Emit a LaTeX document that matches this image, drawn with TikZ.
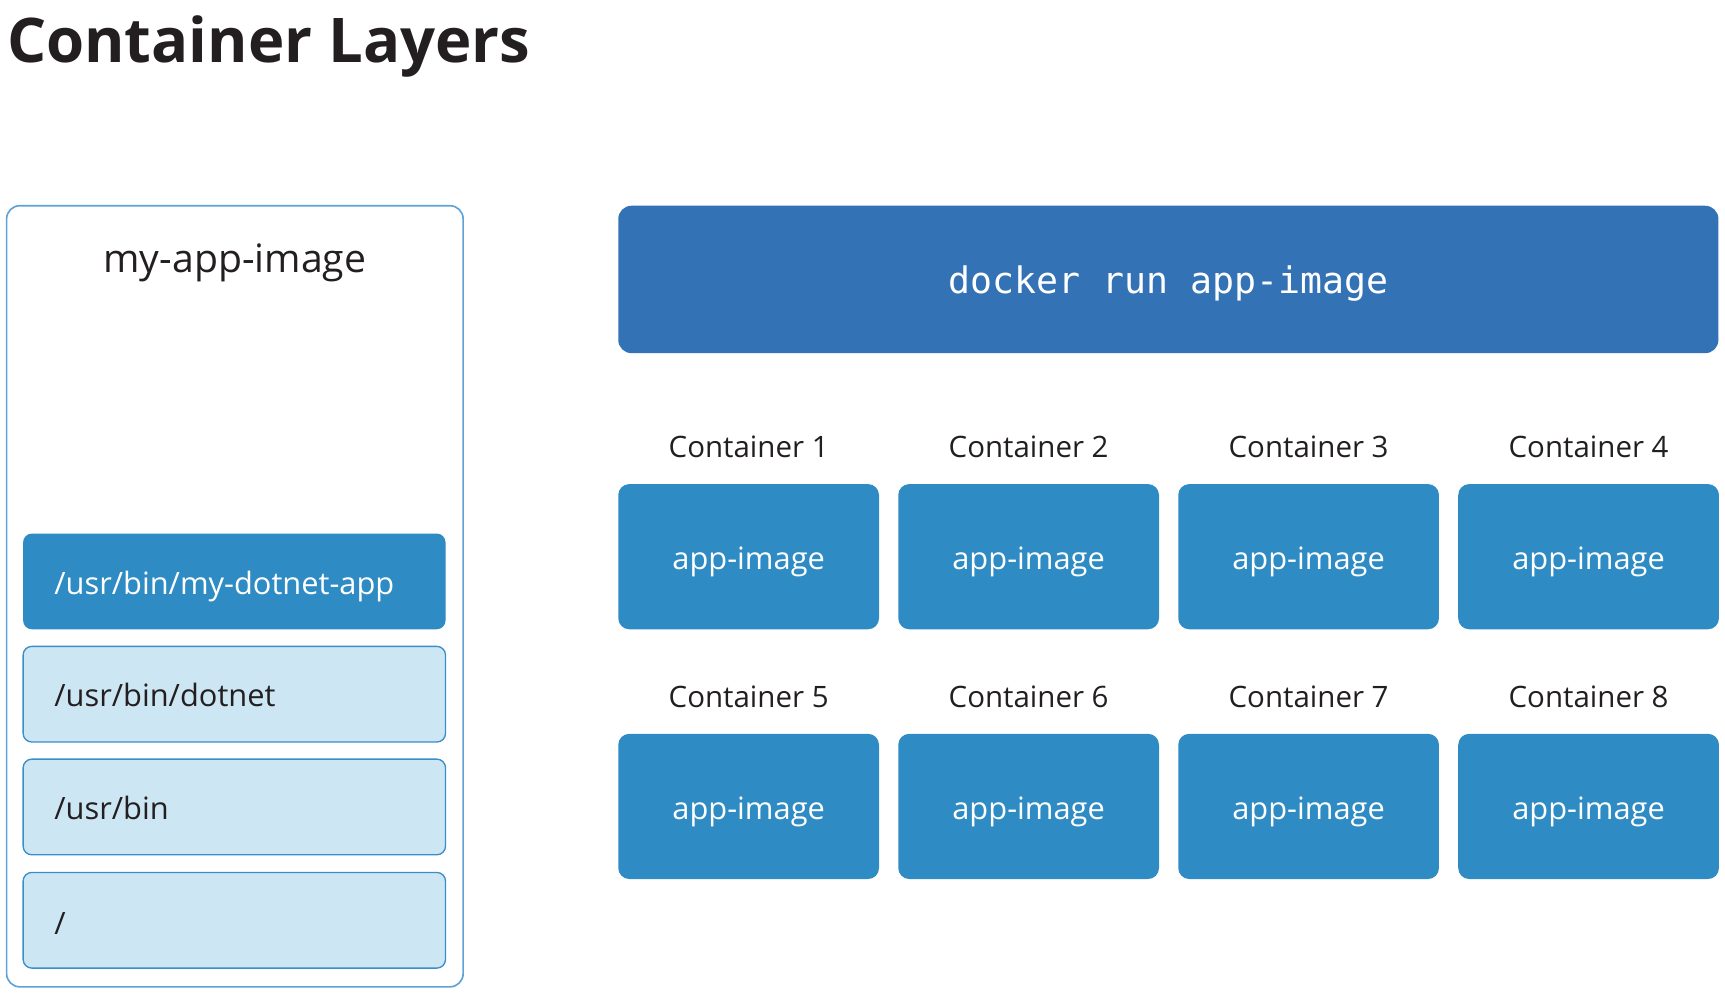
\documentclass[tikz,border=0pt]{standalone}
\usepackage{fontspec}
\setmainfont{Open Sans}
\setmonofont{DejaVu Sans Mono}
\definecolor{dockerblue}{HTML}{3372B4}
\definecolor{appblue}{HTML}{2E8BC3}
\definecolor{layerlight}{HTML}{CCE6F3}
\definecolor{layeredge}{HTML}{3A8FC8}
\definecolor{outeredge}{HTML}{5DA3D9}
\definecolor{ink}{HTML}{231F20}
\tikzset{
  cbox/.style={fill=appblue, draw=none, rounded corners=5pt, inner sep=0pt,
    minimum width=118.5pt, minimum height=66pt},
  dockerbox/.style={fill=dockerblue, draw=none, rounded corners=6pt, inner sep=0pt,
    minimum width=500pt, minimum height=67pt},
  outerbox/.style={draw=outeredge, line width=0.75pt, fill=white, rounded corners=6pt,
    inner sep=0pt, minimum width=207.5pt, minimum height=355pt},
  toplayer/.style={fill=appblue, draw=none, rounded corners=4pt, inner sep=0pt,
    minimum width=192pt, minimum height=43.5pt},
  layerbox/.style={fill=layerlight, draw=layeredge, line width=0.6pt, rounded corners=4pt,
    inner sep=0pt, minimum width=192pt, minimum height=43.5pt},
  lbl/.style={text=ink, font=\fontsize{13.4}{16}\selectfont, anchor=base, inner sep=0pt},
  apptxt/.style={text=white, font=\fontsize{14}{17}\selectfont, anchor=base, inner sep=0pt},
  layertxt/.style={font=\fontsize{14}{17}\selectfont, anchor=base west, inner sep=0pt},
}
\begin{document}
\begin{tikzpicture}[x=0.5pt,y=-0.5pt]
\useasboundingbox (0,0) rectangle (1568,902);
% title
\node[anchor=base west, inner sep=0pt, text=ink, font=\fontsize{28}{32}\selectfont\bfseries] (title) at (6,57) {Container Layers};
% image stack
\node[outerbox] (img) at (213.5,542) {};
\node[text=ink, font=\fontsize{17.8}{21}\selectfont, anchor=base, inner sep=0pt] (imgname) at (213.5,248) {my-app-image};
\node[toplayer] (l1) at (213,528.5) {};
\node[layerbox] (l2) at (213,631) {};
\node[layerbox] (l3) at (213,733.5) {};
\node[layerbox] (l4) at (213,836.5) {};
\node[layertxt, text=white] (t1) at (49,540) {/usr/bin/my-dotnet-app};
\node[layertxt, text=ink] (t2) at (49,642) {/usr/bin/dotnet};
\node[layertxt, text=ink] (t3) at (49,745) {/usr/bin};
\node[layertxt, text=ink] (t4) at (49,849) {/};
% docker run
\node[dockerbox] (docker) at (1062,254) {};
\node[text=white, font=\ttfamily\fontsize{16.6}{20}\selectfont, anchor=base, inner sep=0pt] (dockertxt) at (1062,267) {docker run app-image};
% containers
\foreach \i/\x/\y in {1/680.5/506, 2/935/506, 3/1189.5/506, 4/1444/506,
                      5/680.5/733, 6/935/733, 7/1189.5/733, 8/1444/733}{
  \node[cbox] (c\i) at (\x,\y) {};
  \node[apptxt] (a\i) at (\x,\y+12) {app-image};
  \node[lbl] (n\i) at (\x,\y-90) {Container \i};
}
\end{tikzpicture}
\end{document}
